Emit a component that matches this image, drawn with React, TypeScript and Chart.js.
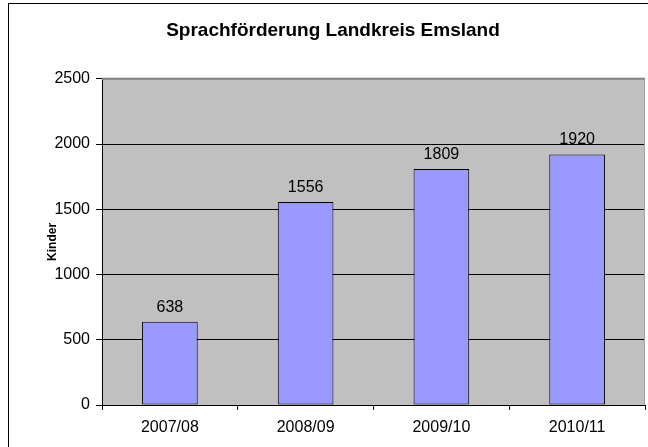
import { useEffect, useRef } from 'react';
import { Chart, registerables } from 'chart.js';

Chart.register(...registerables);

const chartTitle = 'Sprachförderung Landkreis Emsland';
const yAxisTitle = 'Kinder';
const categories = ['2007/08', '2008/09', '2009/10', '2010/11'];
const kinder = [638, 1556, 1809, 1920];
const yTicks = [0, 500, 1000, 1500, 2000, 2500];

const FONT = "'Liberation Sans', Arial, sans-serif";

const framePlugin = {
  id: 'frame',
  beforeDraw(chart: any) {
    const { ctx, chartArea } = chart;
    ctx.save();
    ctx.fillStyle = '#ffffff';
    ctx.fillRect(0, 0, chart.width, chart.height);
    ctx.strokeStyle = '#000000';
    ctx.lineWidth = 1;
    ctx.strokeRect(8.5, 3.5, 800, 600);
    ctx.fillStyle = '#C0C0C0';
    ctx.fillRect(chartArea.left, chartArea.top, chartArea.right - chartArea.left, chartArea.bottom - chartArea.top);
    ctx.restore();
  },
  afterDatasetsDraw(chart: any) {
    const { ctx, chartArea } = chart;
    ctx.save();
    ctx.strokeStyle = '#808080';
    ctx.lineWidth = 2;
    ctx.beginPath();
    ctx.moveTo(chartArea.left, chartArea.top);
    ctx.lineTo(chartArea.right, chartArea.top);
    ctx.stroke();
    ctx.strokeStyle = '#A0A0A0';
    ctx.lineWidth = 1;
    ctx.beginPath();
    ctx.moveTo(chartArea.right - 0.5, chartArea.top);
    ctx.lineTo(chartArea.right - 0.5, chartArea.bottom);
    ctx.stroke();
    // value labels
    const meta = chart.getDatasetMeta(0);
    ctx.fillStyle = '#000000';
    ctx.font = `16px ${FONT}`;
    ctx.textAlign = 'center';
    ctx.textBaseline = 'alphabetic';
    meta.data.forEach((bar: any, i: number) => {
      ctx.fillText(String(kinder[i]), bar.x, bar.y - 10);
    });
    ctx.restore();
  },
};

export default function App() {
  const ref = useRef<HTMLCanvasElement | null>(null);

  useEffect(() => {
    if (!ref.current) return;
    Chart.defaults.color = '#000000';
    Chart.defaults.font.family = FONT;
    const chart = new Chart(ref.current, {
      type: 'bar',
      data: {
        labels: categories,
        datasets: [
          {
            label: yAxisTitle,
            data: kinder,
            backgroundColor: '#9999FF',
            borderColor: '#000000',
            borderWidth: 1,
            borderSkipped: false,
            barPercentage: 0.41,
            categoryPercentage: 1,
          },
        ],
      },
      options: {
        animation: false,
        responsive: true,
        maintainAspectRatio: false,
        layout: { padding: { left: 21, right: 3, top: 3, bottom: 0 } },
        plugins: {
          legend: { display: false },
          tooltip: { enabled: false },
          title: {
            display: true,
            text: chartTitle,
            color: '#000000',
            font: { size: 19, weight: 'bold', family: FONT },
            padding: { top: 16, bottom: 37 },
          },
        },
        scales: {
          x: {
            grid: {
              offset: true,
              drawOnChartArea: false,
              drawTicks: true,
              tickLength: 5,
              color: '#000000',
            },
            border: { color: '#000000', width: 1 },
            ticks: { font: { size: 16, family: FONT }, padding: 8, color: '#000000', maxRotation: 0 },
            afterFit: (scale: any) => {
              scale.height = 42;
            },
          },
          y: {
            min: 0,
            max: 2500,
            afterBuildTicks: (scale: any) => {
              scale.ticks = yTicks.map((v) => ({ value: v }));
            },
            grid: {
              color: '#000000',
              tickLength: 6,
              drawTicks: true,
            },
            border: { color: '#000000', width: 1 },
            ticks: {
              font: { size: 16, family: FONT },
              padding: 6,
              color: '#000000',
              callback: (v: any) => String(v),
            },
            title: {
              display: true,
              text: yAxisTitle,
              color: '#000000',
              font: { size: 12, weight: 'bold', family: FONT },
              padding: { top: 24, bottom: 0 },
            },
            afterFit: (scale: any) => {
              scale.width = 81;
            },
          },
        },
      },
      plugins: [framePlugin],
    });
    return () => chart.destroy();
  }, []);

  return (
    <div style={{ position: 'absolute', left: 0, top: 0, width: 648, height: 447 }}>
      <canvas ref={ref} />
    </div>
  );
}
